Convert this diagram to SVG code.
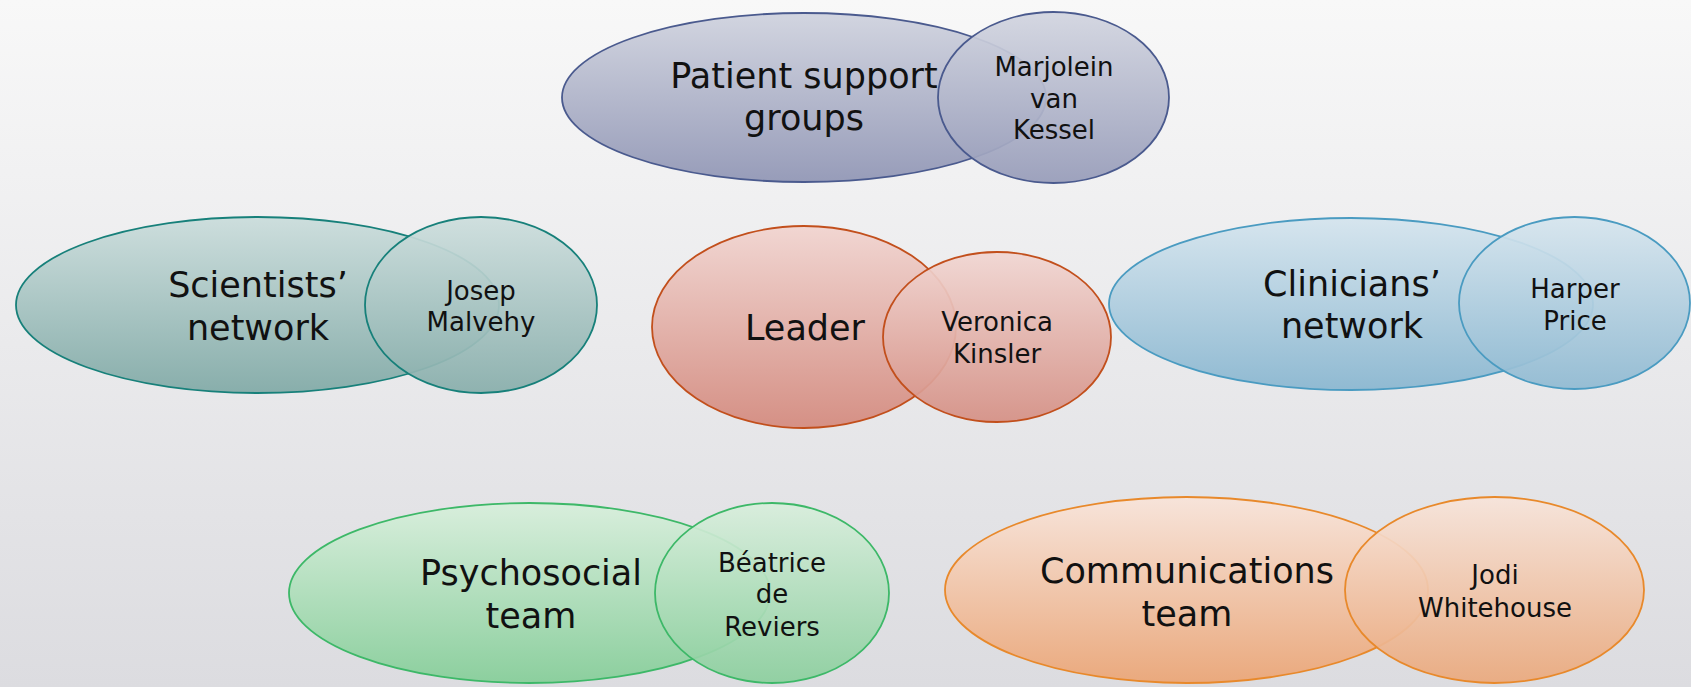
<svg xmlns="http://www.w3.org/2000/svg" width="1691" height="687" viewBox="0 0 1691 687">
<defs>
<linearGradient id="bg" x1="0" y1="0" x2="0" y2="1"><stop offset="0" stop-color="#f8f8f8"/><stop offset="1" stop-color="#dcdce0"/></linearGradient>
<linearGradient id="gP" x1="0" y1="0" x2="0" y2="1"><stop offset="0" stop-color="#d2d5e0"/><stop offset="1" stop-color="#979cb9"/></linearGradient>
<linearGradient id="gS" x1="0" y1="0" x2="0" y2="1"><stop offset="0" stop-color="#cddedd"/><stop offset="1" stop-color="#88aeab"/></linearGradient>
<linearGradient id="gL" x1="0" y1="0" x2="0" y2="1"><stop offset="0" stop-color="#f1d6d2"/><stop offset="1" stop-color="#d59085"/></linearGradient>
<linearGradient id="gC" x1="0" y1="0" x2="0" y2="1"><stop offset="0" stop-color="#d6e5ee"/><stop offset="1" stop-color="#90bad2"/></linearGradient>
<linearGradient id="gY" x1="0" y1="0" x2="0" y2="1"><stop offset="0" stop-color="#d8eedc"/><stop offset="1" stop-color="#8ccf9e"/></linearGradient>
<linearGradient id="gM" x1="0" y1="0" x2="0" y2="1"><stop offset="0" stop-color="#f7e4da"/><stop offset="1" stop-color="#eaa97d"/></linearGradient>
</defs>
<style>
.big{font-family:"DejaVu Sans","Liberation Sans",sans-serif;font-size:35px;fill:#111;text-anchor:middle}
.sm{font-family:"DejaVu Sans","Liberation Sans",sans-serif;font-size:26px;fill:#111;text-anchor:middle}
.sh{stroke-width:1.8}
.ov{fill-opacity:0.93}
</style>
<rect x="0" y="0" width="1691" height="687" fill="url(#bg)"/>
<g id="connectors"/>
<g id="patient-support">
<ellipse class="sh" cx="804" cy="97.5" rx="242" ry="84.5" fill="url(#gP)" stroke="#4a5a8e"/>
<ellipse class="sh ov" cx="1053.5" cy="97.5" rx="115.5" ry="85.5" fill="url(#gP)" stroke="#4a5a8e"/>
<text class="big" x="804" y="88">Patient support</text>
<text class="big" x="804" y="130">groups</text>
<text class="sm" x="1054" y="76">Marjolein</text>
<text class="sm" x="1054" y="108">van</text>
<text class="sm" x="1054" y="139">Kessel</text>
</g>
<g id="scientists">
<ellipse class="sh" cx="257.5" cy="305" rx="241.5" ry="88" fill="url(#gS)" stroke="#17807a"/>
<ellipse class="sh ov" cx="481" cy="305" rx="116" ry="88" fill="url(#gS)" stroke="#17807a"/>
<text class="big" x="258" y="297">Scientists’</text>
<text class="big" x="258" y="340">network</text>
<text class="sm" x="481" y="300">Josep</text>
<text class="sm" x="481" y="331">Malvehy</text>
</g>
<g id="leader">
<ellipse class="sh" cx="804" cy="327" rx="152" ry="101" fill="url(#gL)" stroke="#c24f1c"/>
<ellipse class="sh ov" cx="997" cy="337" rx="114" ry="85" fill="url(#gL)" stroke="#c24f1c"/>
<text class="big" x="805" y="340">Leader</text>
<text class="sm" x="997" y="331">Veronica</text>
<text class="sm" x="997" y="363">Kinsler</text>
</g>
<g id="clinicians">
<ellipse class="sh" cx="1351" cy="304" rx="242" ry="86" fill="url(#gC)" stroke="#4a9bc1"/>
<ellipse class="sh ov" cx="1574.5" cy="303" rx="115.5" ry="86" fill="url(#gC)" stroke="#4a9bc1"/>
<text class="big" x="1352" y="296">Clinicians’</text>
<text class="big" x="1352" y="338">network</text>
<text class="sm" x="1575" y="298">Harper</text>
<text class="sm" x="1575" y="330">Price</text>
</g>
<g id="psychosocial">
<ellipse class="sh" cx="529.5" cy="593" rx="240.5" ry="90" fill="url(#gY)" stroke="#3db868"/>
<ellipse class="sh ov" cx="772" cy="593" rx="117" ry="90" fill="url(#gY)" stroke="#3db868"/>
<text class="big" x="531" y="585">Psychosocial</text>
<text class="big" x="531" y="628">team</text>
<text class="sm" x="772" y="572">Béatrice</text>
<text class="sm" x="772" y="603">de</text>
<text class="sm" x="772" y="636">Reviers</text>
</g>
<g id="communications">
<ellipse class="sh" cx="1186.5" cy="590" rx="241.5" ry="93" fill="url(#gM)" stroke="#e8892b"/>
<ellipse class="sh ov" cx="1494.5" cy="590" rx="149.5" ry="93" fill="url(#gM)" stroke="#e8892b"/>
<text class="big" x="1187" y="583">Communications</text>
<text class="big" x="1187" y="626">team</text>
<text class="sm" x="1495" y="584">Jodi</text>
<text class="sm" x="1495" y="617">Whitehouse</text>
</g>
</svg>
